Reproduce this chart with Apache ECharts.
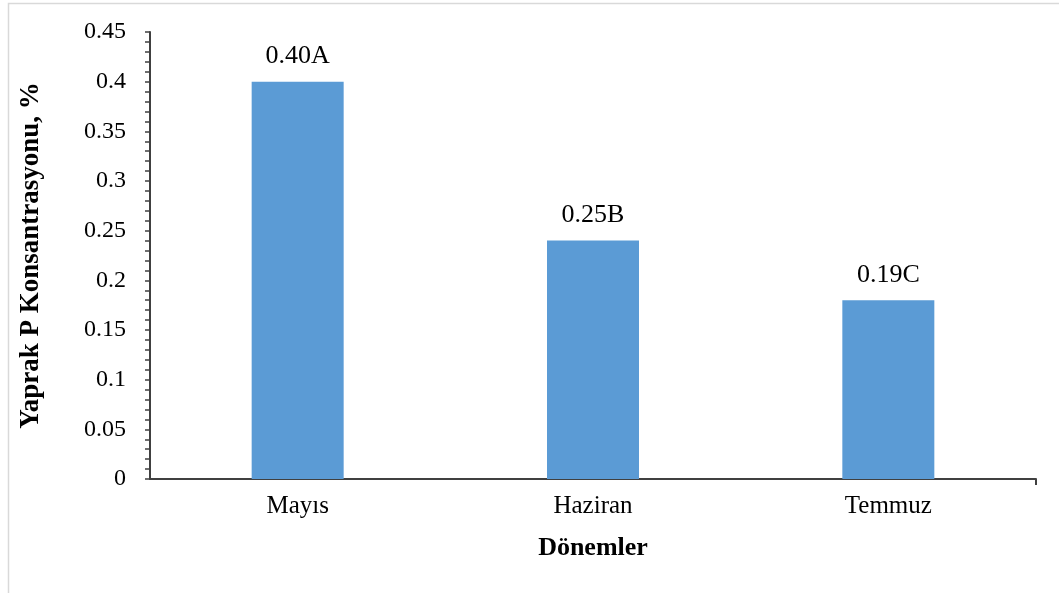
<!DOCTYPE html>
<html>
<head>
<meta charset="utf-8">
<script src="https://cdn.jsdelivr.net/npm/echarts@6/dist/echarts.min.js"></script>
<style>
	html, body { margin: 0; padding: 0; background: #fff; }
	#chart { width: 1059px; height: 593px; }
</style>
</head>
<body>
<div id="chart"></div>
<script>
	// data
	var donemler = ['Mayıs', 'Haziran', 'Temmuz'];
	var pDegerleri = [0.40, 0.24, 0.18];
	var etiketler = ['0.40A', '0.25B', '0.19C'];

	var font = '"Liberation Serif", "DejaVu Serif", serif';
	var axisColor = '#404040';

	var myChart = echarts.init(document.getElementById('chart'));
	var option = {
		animation: false,
		backgroundColor: '#fff',
		textStyle: { fontFamily: font },
		graphic: [{
			type: 'rect',
			shape: { x: 8.5, y: 3.5, width: 1060, height: 600 },
			style: { fill: 'none', stroke: '#d9d9d9', lineWidth: 1.5 },
			silent: true
		}],
		grid: {
			left: 150,
			right: 23,
			top: 32,
			bottom: 114
		},
		xAxis: [{
			type: 'category',
			data: donemler,
			name: 'Dönemler',
			nameLocation: 'middle',
			nameGap: 56,
			nameTextStyle: { fontFamily: font, fontSize: 26, fontWeight: 'bold', color: '#000' },
			axisLine: { lineStyle: { color: axisColor, width: 2 } },
			axisTick: { alignWithLabel: true, length: 6, lineStyle: { color: axisColor, width: 2 } },
			axisLabel: { fontFamily: font, fontSize: 25, color: '#000', margin: 15 }
		}, {
			// only draws the tick at the right end of the axis
			type: 'value',
			position: 'bottom',
			min: 0,
			max: 3,
			interval: 3,
			axisLine: { show: false },
			axisLabel: { show: false },
			splitLine: { show: false },
			axisTick: { show: true, customValues: [3], length: 6, lineStyle: { color: axisColor, width: 2 } }
		}],
		yAxis: [{
			type: 'value',
			min: 0,
			max: 0.45,
			interval: 0.05,
			name: 'Yaprak P Konsantrasyonu, %',
			nameLocation: 'middle',
			nameGap: 105,
			nameTextStyle: { fontFamily: font, fontSize: 27, fontWeight: 'bold', color: '#000' },
			axisLine: { show: true, lineStyle: { color: axisColor, width: 2 } },
			axisTick: { show: true, length: 5, lineStyle: { color: axisColor, width: 1.5 } },
			minorTick: { show: true, splitNumber: 5, length: 5, lineStyle: { color: axisColor, width: 1.5 } },
			splitLine: { show: false },
			axisLabel: {
				fontFamily: font,
				fontSize: 24,
				color: '#000',
				margin: 24,
				formatter: function (v) { return String(Math.round(v * 100) / 100); }
			}
		}],
		series: [{
			type: 'bar',
			data: pDegerleri,
			barWidth: 92,
			itemStyle: { color: '#5B9BD5' },
			label: {
				show: true,
				position: 'top',
				distance: 12,
				fontFamily: font,
				fontSize: 26,
				color: '#000',
				formatter: function (p) { return etiketler[p.dataIndex]; }
			}
		}]
	};
	myChart.setOption(option);
</script>
</body>
</html>
